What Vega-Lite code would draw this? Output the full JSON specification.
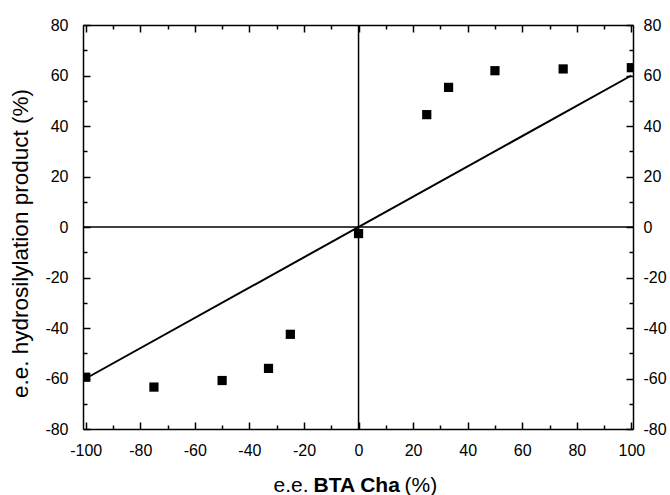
{
  "$schema": "https://vega.github.io/schema/vega-lite/v6.json",
  "width": 550,
  "height": 404,
  "autosize": {"type": "none"},
  "padding": {"left": 83, "top": 25, "right": 37, "bottom": 66},
  "background": "white",
  "config": {
    "view": {"stroke": null},
    "font": "Liberation Sans",
    "axis": {
      "domainColor": "black",
      "domainWidth": 1.5,
      "tickColor": "black",
      "tickWidth": 1.5,
      "labelColor": "black",
      "labelFont": "Liberation Sans",
      "labelFontSize": 16,
      "titleFont": "Liberation Sans",
      "titleFontSize": 21,
      "titleFontWeight": "normal",
      "titleColor": "black",
      "grid": false,
      "labelOverlap": false,
      "labelFlush": false
    }
  },
  "resolve": {"axis": {"x": "independent", "y": "independent"}},
  "layer": [
    {
      "data": {"values": [
        {"ee_bta": -100, "ee_prod": -59.5},
        {"ee_bta": -75, "ee_prod": -63.4},
        {"ee_bta": -50, "ee_prod": -60.8},
        {"ee_bta": -33, "ee_prod": -56},
        {"ee_bta": -25, "ee_prod": -42.5},
        {"ee_bta": 0, "ee_prod": -2.6},
        {"ee_bta": 25, "ee_prod": 44.5},
        {"ee_bta": 33, "ee_prod": 55.3},
        {"ee_bta": 50, "ee_prod": 61.9},
        {"ee_bta": 75, "ee_prod": 62.6},
        {"ee_bta": 100, "ee_prod": 63.1}
      ]},
      "mark": {"type": "point", "shape": "square", "filled": true, "color": "black", "opacity": 1, "size": 85, "clip": true},
      "encoding": {
        "x": {
          "field": "ee_bta", "type": "quantitative",
          "scale": {"domain": [-101, 100.6], "nice": false, "zero": false},
          "axis": {
            "orient": "bottom",
            "title": "e.e.",
            "titleX": 190,
            "titleY": 62,
            "titleAlign": "left",
            "titleBaseline": "alphabetic",
            "values": [-100, -90, -80, -70, -60, -50, -40, -30, -20, -10, 0, 10, 20, 30, 40, 50, 60, 70, 80, 90, 100],
            "labelExpr": "datum.value % 20 === 0 ? '' + datum.value : ''",
            "tickSize": {"condition": {"test": "datum.value % 20 === 0", "value": -7}, "value": -4},
            "labelPadding": 20
          }
        },
        "y": {
          "field": "ee_prod", "type": "quantitative",
          "scale": {"domain": [-80, 80], "nice": false, "zero": false},
          "axis": {
            "orient": "left",
            "title": "e.e. hydrosilylation product (%)",
            "titleFontSize": 22.5,
            "titleX": -56,
            "titleY": 218,
            "titleAngle": -90,
            "titleAlign": "center",
            "titleBaseline": "alphabetic",
            "values": [-80, -70, -60, -50, -40, -30, -20, -10, 0, 10, 20, 30, 40, 50, 60, 70, 80],
            "labelExpr": "datum.value % 20 === 0 ? '' + datum.value : ''",
            "tickSize": {"condition": {"test": "datum.value % 20 === 0", "value": -7}, "value": -4},
            "labelPadding": 22
          }
        }
      }
    },
    {
      "data": {"values": [
        {"ee_bta": -100, "ee_prod": -60},
        {"ee_bta": 100, "ee_prod": 60}
      ]},
      "mark": {"type": "line", "color": "black", "strokeWidth": 2, "clip": true},
      "encoding": {
        "x": {
          "field": "ee_bta", "type": "quantitative",
          "axis": {
            "orient": "top",
            "title": null,
            "labels": false,
            "values": [-100, -90, -80, -70, -60, -50, -40, -30, -20, -10, 0, 10, 20, 30, 40, 50, 60, 70, 80, 90, 100],
            "tickSize": {"condition": {"test": "datum.value % 20 === 0", "value": -7}, "value": -4}
          }
        },
        "y": {
          "field": "ee_prod", "type": "quantitative",
          "axis": {
            "orient": "right",
            "title": null,
            "values": [-80, -70, -60, -50, -40, -30, -20, -10, 0, 10, 20, 30, 40, 50, 60, 70, 80],
            "labelExpr": "datum.value % 20 === 0 ? '' + datum.value : ''",
            "tickSize": {"condition": {"test": "datum.value % 20 === 0", "value": -7}, "value": -4},
            "labelPadding": 17
          }
        }
      }
    },
    {
      "data": {"values": [{"ee_bta": 0}]},
      "mark": {"type": "rule", "color": "black", "strokeWidth": 1.5},
      "encoding": {
        "x": {
          "field": "ee_bta", "type": "quantitative",
          "axis": {
            "orient": "bottom",
            "title": "BTA Cha",
            "titleFontWeight": "bold",
            "titleX": 230,
            "titleY": 62,
            "titleAlign": "left",
            "titleBaseline": "alphabetic",
            "labels": false,
            "ticks": false,
            "domain": false
          }
        }
      }
    },
    {
      "data": {"values": [{"ee_prod": 0, "x_from": -101, "x_to": 100.6}]},
      "mark": {"type": "rule", "color": "black", "strokeWidth": 1.5},
      "encoding": {
        "y": {"field": "ee_prod", "type": "quantitative", "axis": null},
        "x": {
          "field": "x_from", "type": "quantitative",
          "axis": {
            "orient": "bottom",
            "title": "(%)",
            "titleX": 321,
            "titleY": 62,
            "titleAlign": "left",
            "titleBaseline": "alphabetic",
            "labels": false,
            "ticks": false,
            "domain": false
          }
        },
        "x2": {"field": "x_to"}
      }
    }
  ]
}
